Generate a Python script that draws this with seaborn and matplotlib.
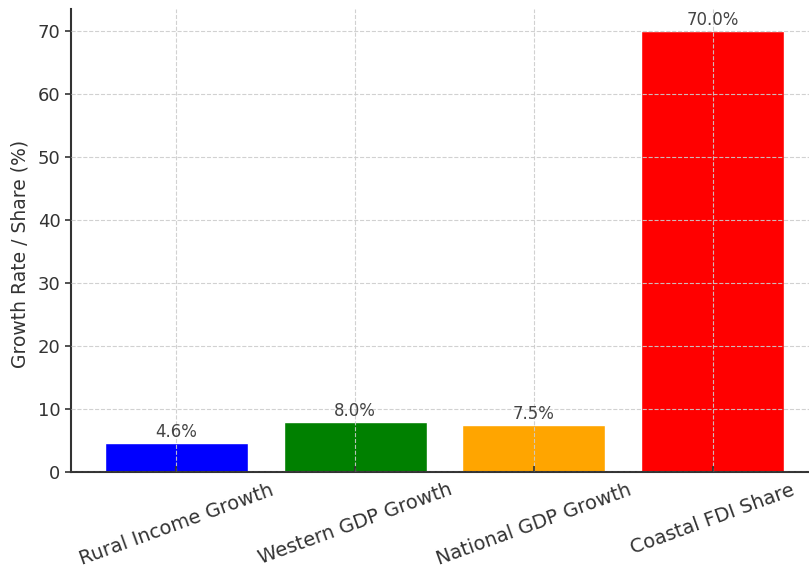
import matplotlib
matplotlib.use("Agg")
import matplotlib.pyplot as plt
import seaborn as sns
import pandas as pd

categories = ["Rural Income Growth", "Western GDP Growth", "National GDP Growth", "Coastal FDI Share"]
values = [4.6, 8.0, 7.5, 70.0]
colors = ["blue", "green", "orange", "red"]
value_labels = ["4.6%", "8.0%", "7.5%", "70.0%"]
ylabel = "Growth Rate / Share (%)"

sns.set_theme(style="white")
plt.rcParams['font.family'] = ['DejaVu Sans']

df = pd.DataFrame({"cat": categories, "val": values})

fig = plt.figure(figsize=(8.09, 5.67), dpi=100)
ax = fig.add_axes([71/809, 1 - 472/567, (818 - 71)/809, (472 - 8.9)/567])

sns.barplot(data=df, x="cat", y="val", hue="cat", palette=colors, legend=False,
            width=0.8, saturation=1, ax=ax, zorder=1)

ax.set_xlim(-0.59, 3.59)
ax.set_ylim(0, 73.5)

for i, (v, lab) in enumerate(zip(values, value_labels)):
    ax.text(i, v + 0.3, lab, ha="center", va="bottom", fontsize=12, color="#444444")

ax.grid(True, linestyle="--", color="#cccccc", linewidth=0.8, alpha=0.9, zorder=3)
ax.set_axisbelow(False)

ax.set_xlabel("")
ax.set_ylabel(ylabel, fontsize=13.5, color="#333333")
ax.yaxis.set_label_coords(-0.055, 0.47)
ax.set_yticks(range(0, 71, 10))
ax.tick_params(axis="y", labelsize=13, colors="#333333", direction="out", length=4, width=1.2, left=True)
ax.tick_params(axis="x", labelsize=14, colors="#333333", direction="in", length=4, width=1.2, bottom=True, pad=6)
plt.setp(ax.get_xticklabels(), rotation=20, ha="center")

for s in ["top", "right"]:
    ax.spines[s].set_visible(False)
for s in ["left", "bottom"]:
    ax.spines[s].set_color("#333333")
    ax.spines[s].set_linewidth(1.5)

fig.savefig("out.png", dpi=100)
